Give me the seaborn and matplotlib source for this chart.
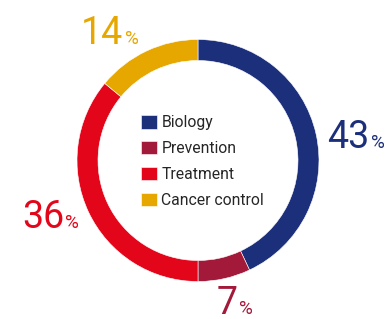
import matplotlib
matplotlib.use('Agg')
import matplotlib.pyplot as plt
import seaborn as sns

# Data
categories = ['Biology', 'Prevention', 'Treatment', 'Cancer control']
shares = [43, 7, 36, 14]
colors = ['#1c2f7b', '#a3193a', '#e3061a', '#e6a700']

# label anchor (x of the number/percent split, baseline y), in px units around the ring centre
label_pos = [(171, 12), (40, -154), (-134, -67), (-75, 117)]

sns.set_theme(style='white')
plt.rcParams['font.family'] = ['Roboto', 'DejaVu Sans']

fig = plt.figure(figsize=(3.88, 3.19), dpi=100)
ax = fig.add_axes([0, 0, 1, 1])

wedges, _ = ax.pie(shares, colors=colors, radius=121, startangle=90,
                   counterclock=False,
                   wedgeprops=dict(width=21, edgecolor='white', linewidth=0.4))

ax.set_xlim(-198, 190)
ax.set_ylim(-158.5, 160.5)
ax.set_aspect('equal')
ax.axis('off')

# Percentage labels: big number + small %
for (x, y), val, col in zip(label_pos, shares, colors):
    ax.text(x, y, str(val), color=col, fontsize=27,
            ha='right', va='baseline')
    ax.text(x + 1.5, y, '%', color=col, fontsize=13.5,
            ha='left', va='baseline')

ax.legend(wedges, categories, loc='upper left',
          bbox_to_anchor=(141 / 388, 1 - 115 / 319),
          bbox_transform=fig.transFigure,
          frameon=False, fontsize=11.3, handlelength=1.0, handleheight=0.95,
          handletextpad=0.3, labelspacing=0.68, borderpad=0, borderaxespad=0)

fig.savefig('out.png', dpi=100)
